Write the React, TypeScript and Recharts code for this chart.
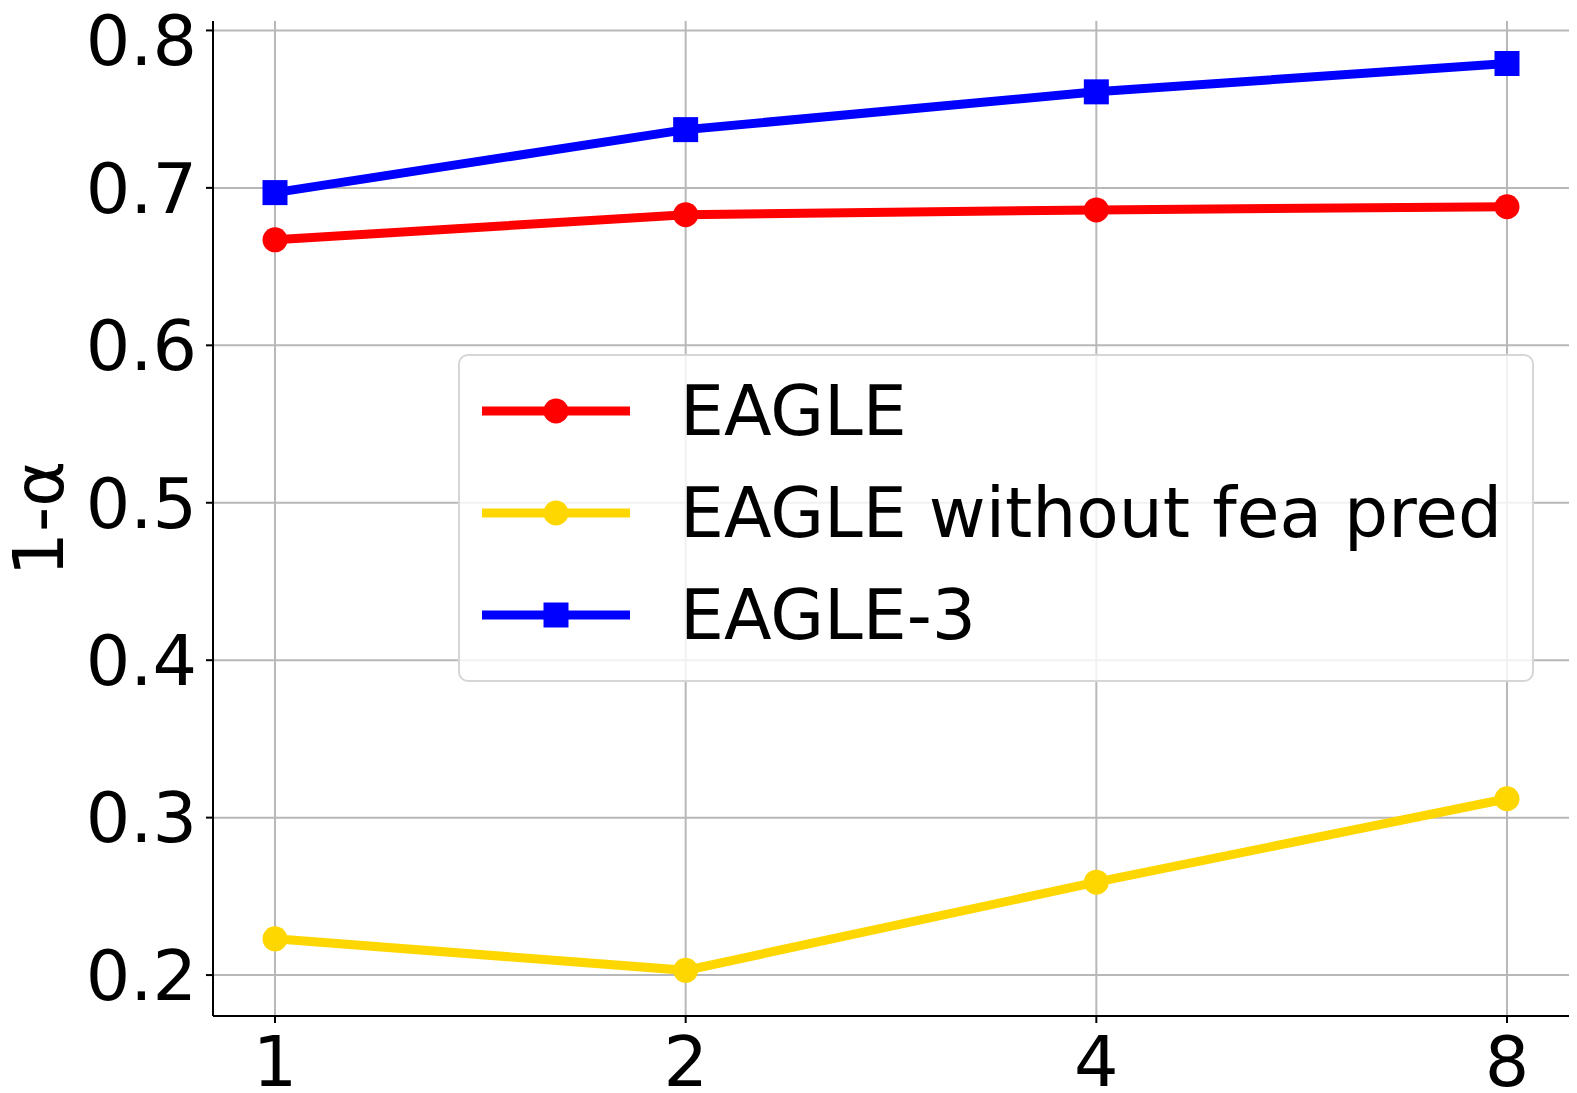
import { CartesianGrid, Line, LineChart, XAxis, YAxis } from "recharts";

const draftLengths = ["1", "2", "4", "8"];
const eagleValues = [0.667, 0.683, 0.686, 0.688];
const noFeaPredValues = [0.223, 0.203, 0.259, 0.312];
const eagle3Values = [0.697, 0.737, 0.761, 0.779];
const yTicks = [0.2, 0.3, 0.4, 0.5, 0.6, 0.7, 0.8];

const FONT = "'DejaVu Sans', sans-serif";

type Series = {
  key: string;
  name: string;
  color: string;
  marker: "circle" | "square";
  values: number[];
};

const series: Series[] = [
  { key: "eagle", name: "EAGLE", color: "#ff0000", marker: "circle", values: eagleValues },
  { key: "noFea", name: "EAGLE without fea pred", color: "#ffd700", marker: "circle", values: noFeaPredValues },
  { key: "eagle3", name: "EAGLE-3", color: "#0000ff", marker: "square", values: eagle3Values },
];

const data = draftLengths.map((x, i) => {
  const row: Record<string, string | number> = { x };
  for (const s of series) row[s.key] = s.values[i];
  return row;
});

function makeDot(s: Series) {
  return (props: any) => {
    const { cx, cy, index } = props;
    if (s.marker === "square") {
      return <rect key={`${s.key}-${index}`} x={cx - 12.5} y={cy - 12.5} width={25} height={25} fill={s.color} />;
    }
    return <circle key={`${s.key}-${index}`} cx={cx} cy={cy} r={12.5} fill={s.color} />;
  };
}

function LegendMarker({ s }: { s: Series }) {
  return (
    <svg width={148} height={30} style={{ display: "block", flex: "none" }}>
      <line x1={0} y1={15} x2={148} y2={15} stroke={s.color} strokeWidth={9} />
      {s.marker === "square" ? (
        <rect x={61.5} y={2.5} width={25} height={25} fill={s.color} />
      ) : (
        <circle cx={74} cy={15} r={12.5} fill={s.color} />
      )}
    </svg>
  );
}

export default function App() {
  return (
    <div style={{ position: "absolute", left: 0, top: 0, width: 1577, height: 1093, background: "#fff", fontFamily: FONT }}>
      <LineChart width={1577} height={1093} data={data} margin={{ top: 21, right: 8, left: 0, bottom: 0 }}>
        <CartesianGrid stroke="#b8b8b8" strokeWidth={2} syncWithTicks />
        <XAxis
          dataKey="x"
          height={77}
          padding={{ left: 62, right: 62 }}
          interval={0}
          axisLine={{ stroke: "#000", strokeWidth: 2 }}
          tickLine={{ stroke: "#000", strokeWidth: 2 }}
          tickSize={7}
          tickMargin={13}
          tick={{ fontSize: 70, fill: "#000", fontFamily: FONT }}
        />
        <YAxis
          type="number"
          width={213}
          domain={[0.174, 0.806]}
          ticks={yTicks}
          allowDataOverflow
          tickFormatter={(v: number) => v.toFixed(1)}
          axisLine={{ stroke: "#000", strokeWidth: 2 }}
          tickLine={{ stroke: "#000", strokeWidth: 2 }}
          tickSize={7}
          tickMargin={9}
          tick={{ fontSize: 70, fill: "#000", fontFamily: FONT }}
          label={{
            content: (props: any) => {
              const vb = props.viewBox || { y: 21, height: 995 };
              const cy = vb.y + vb.height / 2;
              return (
                <text
                  transform={`translate(63, ${cy}) rotate(-90)`}
                  textAnchor="middle"
                  fontSize={70}
                  fontFamily={FONT}
                  fill="#000"
                >
                  1-α
                </text>
              );
            },
          }}
        />
        {series.map((s) => (
          <Line
            key={s.key}
            type="linear"
            dataKey={s.key}
            name={s.name}
            stroke={s.color}
            strokeWidth={9}
            dot={makeDot(s)}
            activeDot={false}
            isAnimationActive={false}
          />
        ))}
      </LineChart>
      <div
        style={{
          position: "absolute",
          left: 458,
          top: 354,
          width: 1076,
          height: 328,
          boxSizing: "border-box",
          border: "2px solid #d6d6d6",
          borderRadius: 10,
          background: "rgba(255,255,255,0.8)",
        }}
      >
        {series.map((s, i) => (
          <div
            key={s.key}
            style={{
              position: "absolute",
              left: 22,
              top: 4 + i * 102,
              height: 102,
              display: "flex",
              alignItems: "center",
              whiteSpace: "nowrap",
            }}
          >
            <LegendMarker s={s} />
            <span style={{ marginLeft: 50, fontSize: 69.5, lineHeight: 1, color: "#000" }}>{s.name}</span>
          </div>
        ))}
      </div>
    </div>
  );
}
